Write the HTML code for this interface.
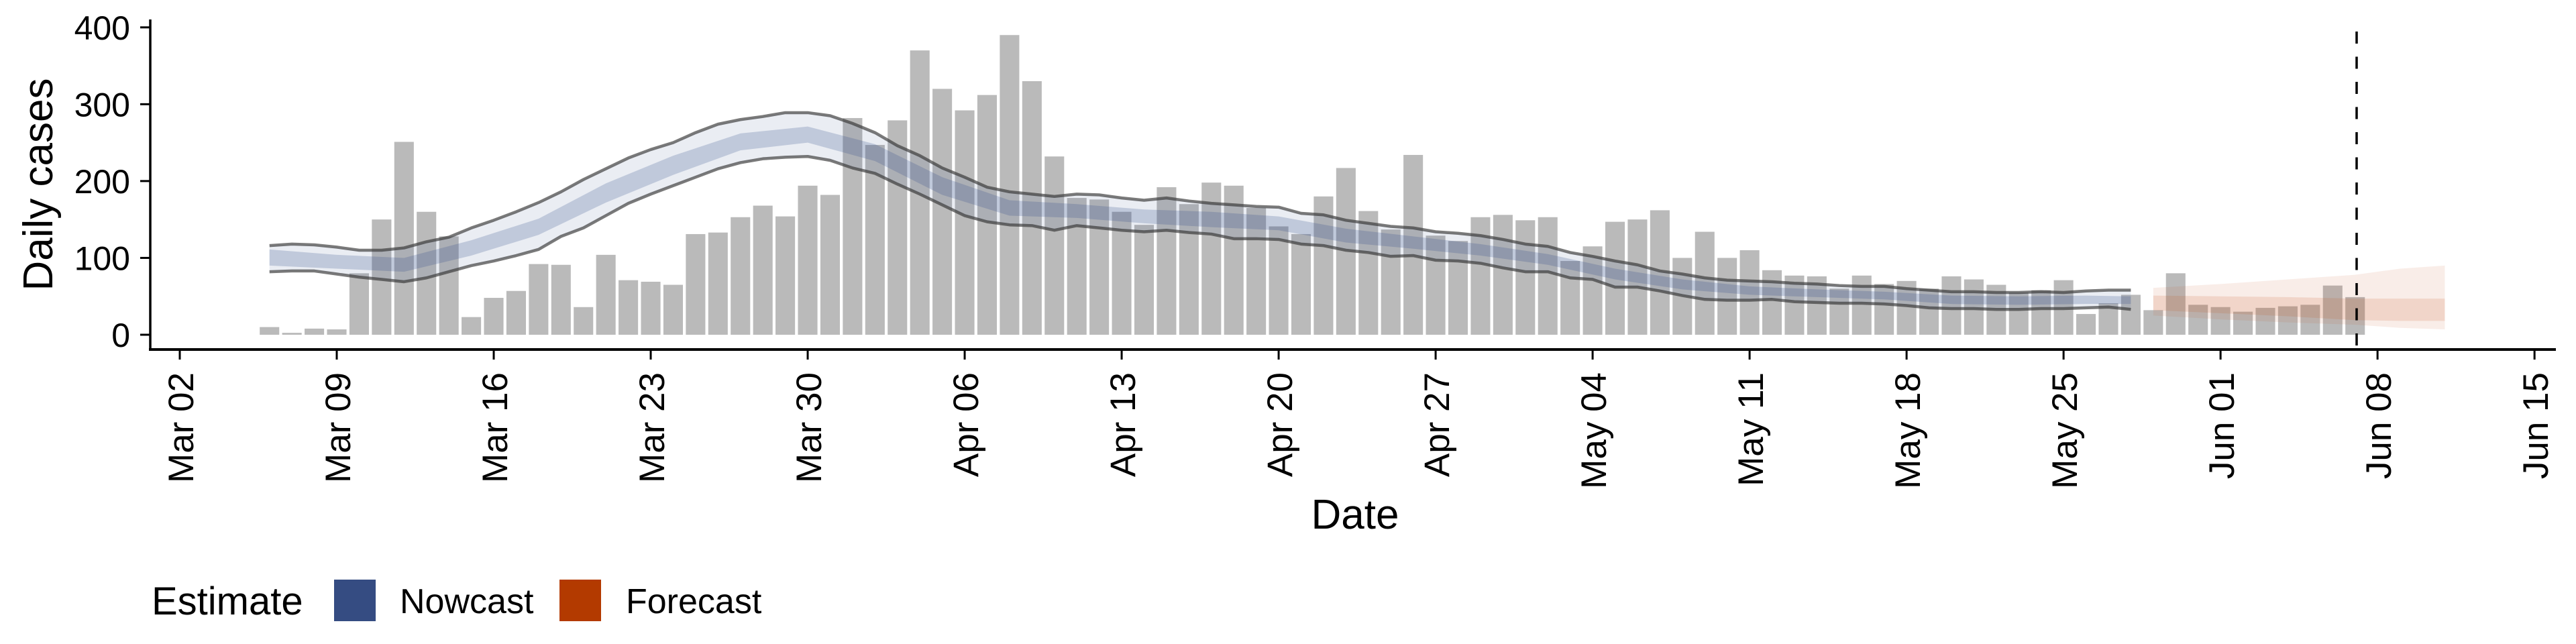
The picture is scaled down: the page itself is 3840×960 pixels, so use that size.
<!DOCTYPE html>
<html><head><meta charset="utf-8"><style>
html,body{margin:0;padding:0;background:#fff}
svg{display:block}
text{font-family:"Liberation Sans",Arial,sans-serif;fill:#000}
</style></head><body>
<svg id="chart" width="3840" height="960" viewBox="0 0 3840 960" xmlns="http://www.w3.org/2000/svg">
<g id="bars"></g>
<g id="bands"></g>
<g id="lines"></g>
<line x1="3513" y1="47" x2="3513" y2="521" stroke="#000" stroke-width="3.5" stroke-dasharray="18 19.5"/>
<g id="axes"></g>
<text x="0" y="0" font-size="62" text-anchor="middle" transform="translate(78,275) rotate(-90)">Daily cases</text>
<text x="2020" y="788" font-size="62" text-anchor="middle">Date</text>
<g>
<text x="226" y="916" font-size="58">Estimate</text>
<rect x="498" y="864" width="62" height="62" fill="#354c82"/>
<text x="596" y="914" font-size="52">Nowcast</text>
<rect x="834" y="864" width="62" height="62" fill="#b33a00"/>
<text x="933" y="914" font-size="52">Forecast</text>
</g>
</svg>
<script>
// data: day index 0 = Mar 02
const barStartDay = 4;
const barValues = [10,2.5,8,7,80,150,251,160,128,23,48,57,92,91,36,104,71,69,65,131,133,153,168,154,194,182,
282,247,279,370,320,292,312,390,330,232,178,176,160,143,192,170,198,194,165,141,131,180,217,161,137,234,129,122,153,156,
149,153,96,115,147,150,162,100,134,100,110,84,77,76,60,77,66,70,60,76,72,65,55,58,71,27,41,52,32,80,39,
36,30,35,37,39,64,49];
const nowStartDay = 4;
const nowUpper = [116,118,117,114,110,110,113,121,127,139,149,160,172,186,202,216,230,241,250,263,274,280,284,289,289,285,275,263,246,233,217,205,192,186,183,180,183,182,178,175,178,174,171,169,167,166,158,156,149,145,141,139,134,132,129,124,118,115,107,102,96,91,83,79,74,71,70,69,67,66,64,63,63,60,58,56,56,55,55,56,55,57,58,58];
const nowLower = [82,83,83,79,75,72,69,74,82,90,96,103,111,128,139,155,171,183,194,205,216,224,229,231,232,227,217,210,196,183,169,155,147,143,142,136,142,139,136,134,136,133,131,125,125,124,118,116,110,107,102,103,97,96,93,87,82,82,74,72,62,62,57,51,46,45,45,46,43,42,41,41,40,38,35,34,34,33,33,34,34,35,36,33];
const innerDays = [4,7,10,13,16,19,22,25,28,31,34,37,40,43,46,49,52,55,58,61,64,67,70,73,76,79,82,85,87];
const innerUpper = [111,104,100,123,151,197,233,262,271,248,205,175,170,163,160,154,138,128,118,105,86,72,63,59,56,51,50,51,50];
const innerLower = [90,86,82,103,130,172,208,240,250,226,182,155,152,145,140,136,120,112,103,91,72,59,52,49,46,40,39,40,40];
const fcDays = [88,91,94,97,99,101];
const fcOuterUpper = [61,66,72,78,86,90];
const fcOuterLower = [25,20,16,13,9,7];
const fcInnerUpper = [51,50,49,47,47,47];
const fcInnerLower = [32,28,24,19,18,18];
const xTickLabels = ["Mar 02","Mar 09","Mar 16","Mar 23","Mar 30","Apr 06","Apr 13","Apr 20","Apr 27","May 04","May 11","May 18","May 25","Jun 01","Jun 08","Jun 15"];
const yTicks = [0,100,200,300,400];

const NS="http://www.w3.org/2000/svg";
const X = d => 268 + d*33.43;
const Y = v => 499 - v*1.1455;
function mk(tag, attrs, parent){const e=document.createElementNS(NS,tag);for(const k in attrs)e.setAttribute(k,attrs[k]);parent.appendChild(e);return e;}

const gb=document.getElementById('bars');
barValues.forEach((v,i)=>{
  const d=barStartDay+i, w=0.87*33.43;
  const r=mk('rect',{x:X(d)-w/2,y:Y(v),width:w,height:Y(0)-Y(v),fill:'#bababa'},gb);
  
  
});

function bandPath(days, up, lo){
  let p='';
  days.forEach((d,i)=>{p+=(i?'L':'M')+X(d)+','+Y(up[i]);});
  for(let i=days.length-1;i>=0;i--)p+='L'+X(days[i])+','+Y(lo[i]);
  return p+'Z';
}
const nowDays = nowUpper.map((_,i)=>nowStartDay+i);
const gbd=document.getElementById('bands');
const b1=mk('path',{d:bandPath(nowDays,nowUpper,nowLower),fill:'#2f4b8a','fill-opacity':'0.1'},gbd);


const b2=mk('path',{d:bandPath(innerDays,innerUpper,innerLower),fill:'#2f4b8a','fill-opacity':'0.22'},gbd);


const b3=mk('path',{d:bandPath(fcDays,fcOuterUpper,fcOuterLower),fill:'#c0521a','fill-opacity':'0.1'},gbd);


const b4=mk('path',{d:bandPath(fcDays,fcInnerUpper,fcInnerLower),fill:'#c0521a','fill-opacity':'0.15'},gbd);



const gl=document.getElementById('lines');
[[nowUpper,'nowcast-upper-line'],[nowLower,'nowcast-lower-line']].forEach(([arr,nm])=>{
  const p=arr.map((v,i)=>(i?'L':'M')+X(nowDays[i])+','+Y(v)).join('');
  const l=mk('path',{d:p,fill:'none',stroke:'#333','stroke-opacity':'0.65','stroke-width':'4.5','stroke-linejoin':'round'},gl);
  
  
});

const ga=document.getElementById('axes');
const ya=mk('line',{x1:224,y1:29,x2:224,y2:523,stroke:'#000','stroke-width':3.5},ga);


const xa=mk('line',{x1:222,y1:521,x2:3810,y2:521,stroke:'#000','stroke-width':4},ga);


yTicks.forEach(v=>{
  const t=mk('line',{x1:209,y1:Y(v),x2:224,y2:Y(v),stroke:'#000','stroke-width':3},ga);
  
  
  const tx=mk('text',{x:194,y:Y(v)+18,'font-size':50,'text-anchor':'end'},ga);
  tx.textContent=v;
  
  
});
xTickLabels.forEach((lab,i)=>{
  const x=X(i*7);
  const t=mk('line',{x1:x,y1:521,x2:x,y2:536,stroke:'#000','stroke-width':3},ga);
  
  
  const tx=mk('text',{x:0,y:0,'font-size':53,'text-anchor':'end',transform:'translate('+(x+20)+',555) rotate(-90)'},ga);
  tx.textContent=lab;
  
  
});
</script>
</body></html>
